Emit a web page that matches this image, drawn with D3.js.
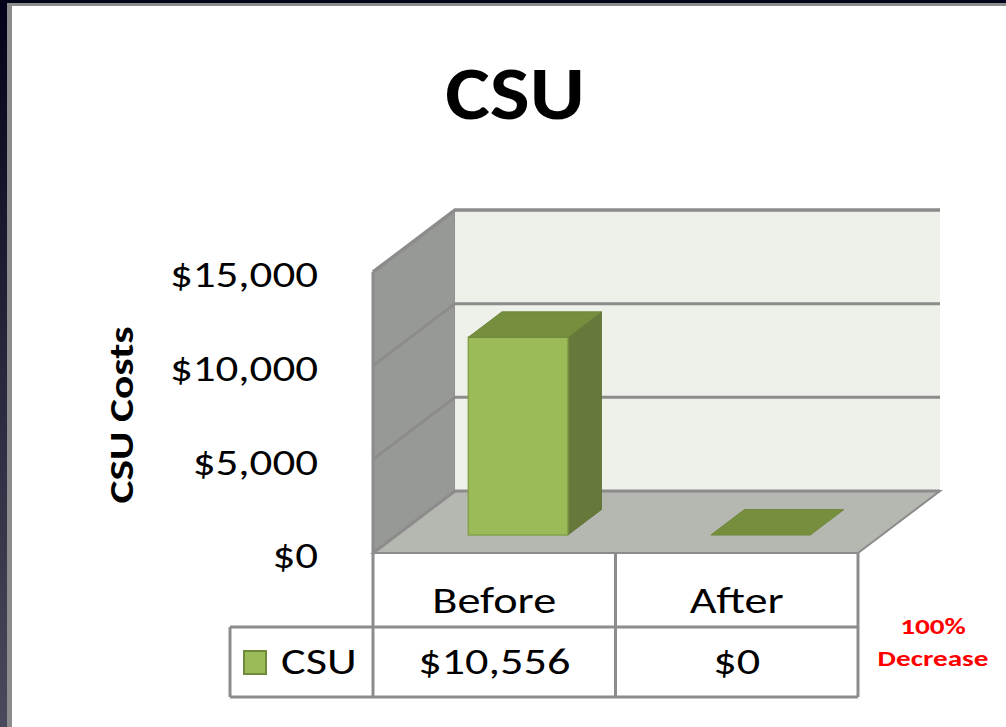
<!DOCTYPE html>
<html>
<head>
<meta charset="utf-8">
<script src="https://cdn.jsdelivr.net/npm/d3@7"></script>
<style>
  html, body { margin: 0; padding: 0; background: #000; }
  svg { display: block; }
  text { font-family: Carlito, Lato, "Open Sans", sans-serif; }
</style>
</head>
<body>
<svg id="chart" width="1006" height="727"></svg>
<script>
// ---- data ----
const title = "CSU";
const yAxisTitle = "CSU Costs";
const categories = ["Before", "After"];
const seriesName = "CSU";
const seriesValues = [10556, 0];
const valueLabels = ["$10,556", "$0"];
const yTicks = [0, 5000, 10000, 15000];
const yTickLabels = ["$0", "$5,000", "$10,000", "$15,000"];
const noteLines = ["100%", "Decrease"];

const svg = d3.select("#chart");
const W = 1006, H = 727;

// ---- background frame ----
const defs = svg.append("defs");
const lg = defs.append("linearGradient").attr("id", "bgGrad")
  .attr("x1", 0).attr("y1", 0).attr("x2", 0).attr("y2", 1);
lg.append("stop").attr("offset", 0).attr("stop-color", "#02021a");
lg.append("stop").attr("offset", 1).attr("stop-color", "#4a4a5e");
svg.append("rect").attr("width", W).attr("height", H).attr("fill", "url(#bgGrad)");
svg.append("rect").attr("x", 7).attr("y", 3).attr("width", W).attr("height", H)
  .attr("fill", "#8c8c8c");
svg.append("rect").attr("x", 12).attr("y", 6).attr("width", W).attr("height", H)
  .attr("fill", "#ffffff");

// text helper: horizontally widened glyphs (Calibri-like proportions)
function label(parent, tx, ty, str, opts) {
  const o = Object.assign({ size: 37, sx: 1.25, anchor: "middle", weight: "normal",
    fill: "#000", rotate: 0 }, opts || {});
  return parent.append("text")
    .attr("transform", `translate(${tx},${ty}) rotate(${o.rotate}) scale(${o.sx},1)`)
    .attr("text-anchor", o.anchor).attr("dominant-baseline", "central")
    .attr("font-size", o.size).attr("font-weight", o.weight).attr("fill", o.fill)
    .text(str);
}

// ---- scales ----
const x0 = 373, x1 = 858;       // front plane extent
const depthDx = 82, depthDy = -62;  // offset from front plane to back wall
const y = d3.scaleLinear().domain([0, 15000]).range([553, 272]);
const x = d3.scaleBand().domain(categories).range([x0, x1]).padding(0);
const barFrac = 0.41;            // bar width / band
const dFront = 0.29, dBack = 0.70; // bar depth fraction

const P = (px, py, t) => [px + depthDx * t, py + depthDy * t];
const poly = pts => "M" + pts.map(p => p.join(",")).join("L") + "Z";

const gridColor = "#8c8c8c";
const g = svg.append("g");

// side wall
g.append("path")
  .attr("d", poly([P(x0, y(0), 0), P(x0, y(15000), 0), P(x0, y(15000), 1), P(x0, y(0), 1)]))
  .attr("fill", "#979994").attr("stroke", gridColor).attr("stroke-width", 1.5);
// back wall
g.append("path")
  .attr("d", poly([P(x0, y(0), 1), P(x0, y(15000), 1), P(x1, y(15000), 1), P(x1, y(0), 1)]))
  .attr("fill", "#eef1ea");
// floor
g.append("path")
  .attr("d", poly([P(x0, y(0), 0), P(x1, y(0), 0), P(x1, y(0), 1), P(x0, y(0), 1)]))
  .attr("fill", "#b5b7b1").attr("stroke", gridColor).attr("stroke-width", 2);

// gridlines (side wall diagonal + back wall horizontal)
yTicks.forEach(v => {
  const a = P(x0, y(v), 0), b = P(x0, y(v), 1), c = P(x1, y(v), 1);
  g.append("path").attr("d", `M${a}L${b}L${c}`)
    .attr("fill", "none").attr("stroke", gridColor)
    .attr("stroke-width", v === 15000 ? 3.5 : 3);
});
// front edge of side wall
g.append("line").attr("x1", x0).attr("x2", x0).attr("y1", y(0)).attr("y2", y(15000))
  .attr("stroke", gridColor).attr("stroke-width", 3);

// ---- bars ----
const colFront = "#9bbb59", colTop = "#768f3f", colSide = "#66793a";
categories.forEach((c, i) => {
  const v = seriesValues[i];
  const bw = x.bandwidth() * barFrac;
  const cx = x(c) + x.bandwidth() / 2;
  const l = cx - bw / 2, r = cx + bw / 2;
  const yb = y(0), yt = y(v);
  const bg = g.append("g");
  if (v > 0) {
    bg.append("path").attr("d", poly([P(r, yb, dFront), P(r, yt, dFront), P(r, yt, dBack), P(r, yb, dBack)]))
      .attr("fill", colSide).attr("stroke", "#5f7335").attr("stroke-width", 1);
    bg.append("path").attr("d", poly([P(l, yb, dFront), P(l, yt, dFront), P(r, yt, dFront), P(r, yb, dFront)]))
      .attr("fill", colFront).attr("stroke", "#83a24a").attr("stroke-width", 1.5);
  }
  bg.append("path").attr("d", poly([P(l, yt, dFront), P(r, yt, dFront), P(r, yt, dBack), P(l, yt, dBack)]))
    .attr("fill", colTop).attr("stroke", "#6f873b").attr("stroke-width", 1);
});

// ---- y axis labels ----
yTicks.forEach((v, i) => {
  label(svg, 318, y(v) + 3, yTickLabels[i], { anchor: "end", size: 36 });
});
label(svg, 121, 415, yAxisTitle, { rotate: -90, size: 35, weight: "bold", sx: 1.24 });

// ---- title ----
svg.append("text")
  .attr("transform", "translate(515,119) scale(1.14,1)")
  .attr("text-anchor", "middle").attr("font-size", 74).attr("font-weight", "bold")
  .text(title);

// ---- data table ----
const rowTop = y(0), rowMid = 627, rowBot = 697, legLeft = 230;
const tg = svg.append("g").attr("stroke", gridColor).attr("stroke-width", 3);
[x0, x(categories[1]), x1].forEach(xv => {
  tg.append("line").attr("x1", xv).attr("x2", xv).attr("y1", rowTop).attr("y2", rowBot);
});
tg.append("line").attr("x1", legLeft).attr("x2", x1).attr("y1", rowMid).attr("y2", rowMid);
tg.append("line").attr("x1", legLeft).attr("x2", x1).attr("y1", rowBot).attr("y2", rowBot);
tg.append("line").attr("x1", legLeft).attr("x2", legLeft).attr("y1", rowMid).attr("y2", rowBot);

categories.forEach((c, i) => {
  const cx = x(c) + x.bandwidth() / 2;
  label(svg, cx, 600, c, { size: 37 });
  label(svg, cx, (rowMid + rowBot) / 2 - 1, valueLabels[i], { size: 37 });
});
// legend key
svg.append("rect").attr("x", 244).attr("y", 651).attr("width", 22).attr("height", 23)
  .attr("fill", colFront).attr("stroke", "#6f8a3a").attr("stroke-width", 2);
label(svg, 281, (rowMid + rowBot) / 2 - 1, seriesName, { anchor: "start", size: 37 });

// ---- note ----
noteLines.forEach((t, i) => {
  label(svg, 933, 626 + i * 32, t, { size: 23, weight: "bold", fill: "#ff0000", sx: 1.27 });
});
</script>
</body>
</html>
